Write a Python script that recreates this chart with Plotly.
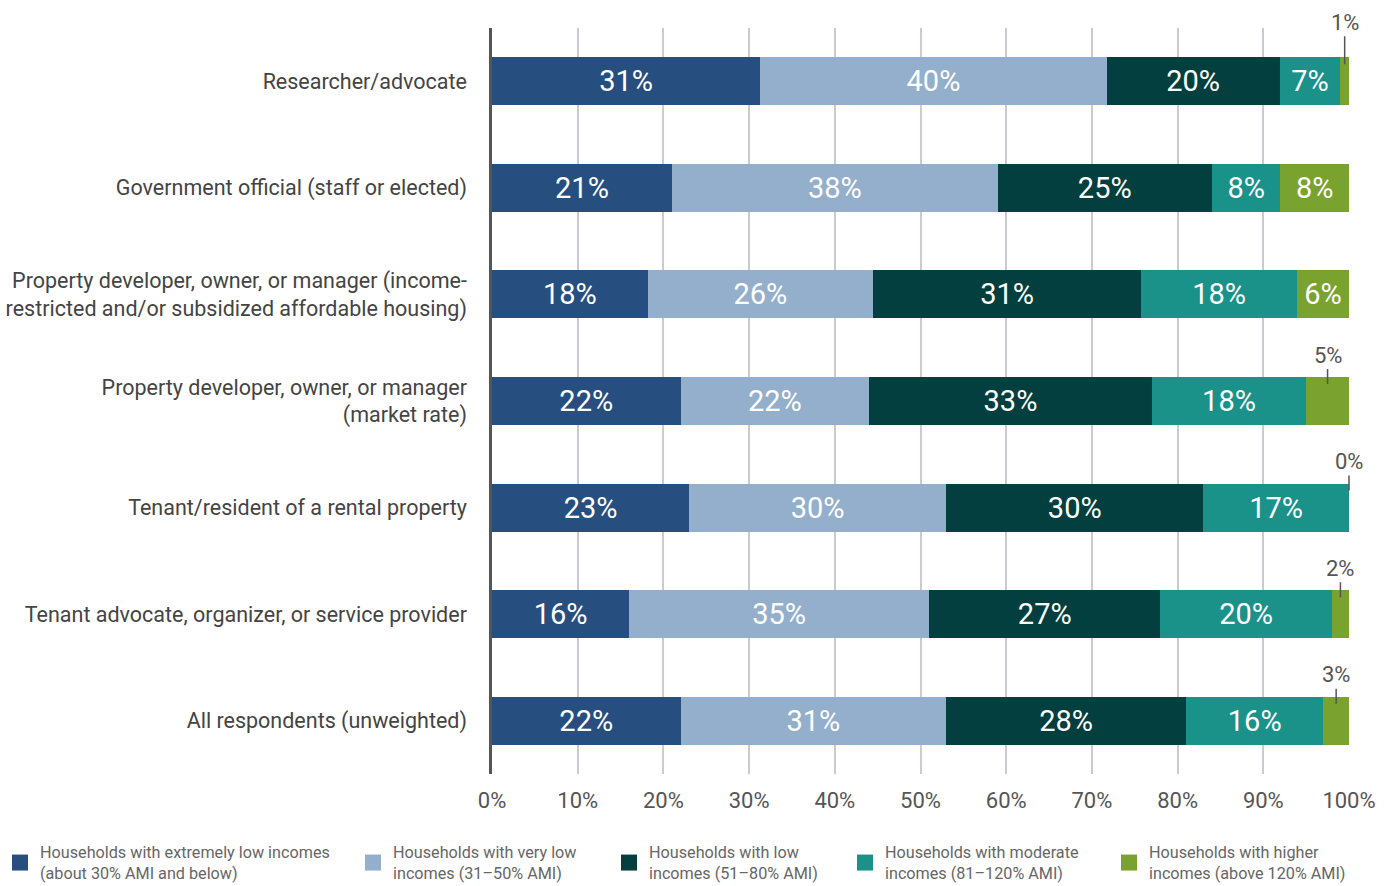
import plotly.graph_objects as go

categories = [
    "Researcher/advocate",
    "Government official (staff or elected)",
    "Property developer, owner, or manager (income-<br>restricted and/or subsidized affordable housing)",
    "Property developer, owner, or manager<br>(market rate)",
    "Tenant/resident of a rental property",
    "Tenant advocate, organizer, or service provider",
    "All respondents (unweighted)",
]
series_names = [
    "Households with extremely low incomes<br>(about 30% AMI and below)",
    "Households with very low<br>incomes (31–50% AMI)",
    "Households with low<br>incomes (51–80% AMI)",
    "Households with moderate<br>incomes (81–120% AMI)",
    "Households with higher<br>incomes (above 120% AMI)",
]
extremely_low = [31, 21, 18, 22, 23, 16, 22]
very_low = [40, 38, 26, 22, 30, 35, 31]
low = [20, 25, 31, 33, 30, 27, 28]
moderate = [7, 8, 18, 18, 17, 20, 16]
higher = [1, 8, 6, 5, 0, 2, 3]
tick_vals = [0, 10, 20, 30, 40, 50, 60, 70, 80, 90, 100]
tick_text = [f"{v}%" for v in tick_vals]

colors = ["#264f80", "#93afcb", "#023f3e", "#1a928a", "#79a22f"]
FONT = "Roboto, sans-serif"

# layout geometry (pixels)
W, H = 1393, 886
ML, MR, MT, MB = 492, 44, 28, 112
PW, PH = W - ML - MR, H - MT - MB
legend_text_x = [40, 393, 649, 885, 1149]

series = [extremely_low, very_low, low, moderate, higher]
fig = go.Figure()
legend_names = ["legend"] + [f"legend{i}" for i in range(2, 6)]
for name, vals, col, lg in zip(series_names, series, colors, legend_names):
    fig.add_trace(go.Bar(
        y=categories, x=vals, name=name, orientation="h",
        showlegend=False,
        marker=dict(color=col, line=dict(width=0)),
        text=[f"{v}%" if v >= 6 else "" for v in vals],
        textposition="inside", insidetextanchor="middle", textangle=0,
        textfont=dict(color="white", size=29, family=FONT),
        hoverinfo="skip",
    ))
    # legend-only entry with a larger square swatch
    fig.add_trace(go.Scatter(
        x=[None], y=[None], mode="markers", name=name, legend=lg,
        showlegend=True,
        marker=dict(symbol="square", size=16, color=col, line=dict(width=0)),
        hoverinfo="skip",
    ))

# small-value labels with leader lines
offsets = {0: -59}
for i, cat in enumerate(categories):
    total = sum(s[i] for s in series)
    cum = 0
    for s in series:
        v = s[i]
        if v < 6:
            center = (cum + v / 2) / total * 100
            fig.add_annotation(
                x=center, y=cat, text=f"{v}%", showarrow=True,
                arrowhead=0, arrowwidth=1.5, arrowcolor="#555555",
                ax=0, ay=offsets.get(i, -46), standoff=17,
                font=dict(size=22, color="#555555", family=FONT),
            )
        cum += v

legend_y = -(835 - (MT + PH)) / PH
legend_layouts = {}
for lg, tx in zip(legend_names, legend_text_x):
    legend_layouts[lg] = dict(
        orientation="v", x=(tx - 40 - ML) / PW, xanchor="left",
        y=legend_y, yanchor="top", itemsizing="trace",
        font=dict(size=16.2, color="#666666", family=FONT),
        itemclick=False, bgcolor="rgba(0,0,0,0)",
    )

fig.update_layout(
    barmode="stack", barnorm="percent", bargap=0.55,
    width=W, height=H, showlegend=True,
    margin=dict(l=ML, r=MR, t=MT, b=MB, autoexpand=False),
    plot_bgcolor="white", paper_bgcolor="white",
    font=dict(family=FONT, color="#555555"),
    xaxis=dict(
        range=[0, 100], tickvals=tick_vals, ticktext=tick_text,
        showgrid=True, gridcolor="#c8ccd0", gridwidth=1.5,
        zeroline=False, showline=False, automargin=False,
        tickfont=dict(size=22, color="#555555", family=FONT),
        ticks="outside", ticklen=7, tickcolor="rgba(0,0,0,0)",
        fixedrange=True,
    ),
    yaxis=dict(
        range=[len(categories) - 0.5, -0.5], autorange=False,
        showline=True, linecolor="#555555", linewidth=2.5,
        showgrid=False, ticks="outside", ticklen=18, tickcolor="rgba(0,0,0,0)",
        tickfont=dict(size=21.5, color="#444444", family=FONT),
        fixedrange=True, automargin=False,
    ),
    **legend_layouts,
)

fig.write_html("out.html")
